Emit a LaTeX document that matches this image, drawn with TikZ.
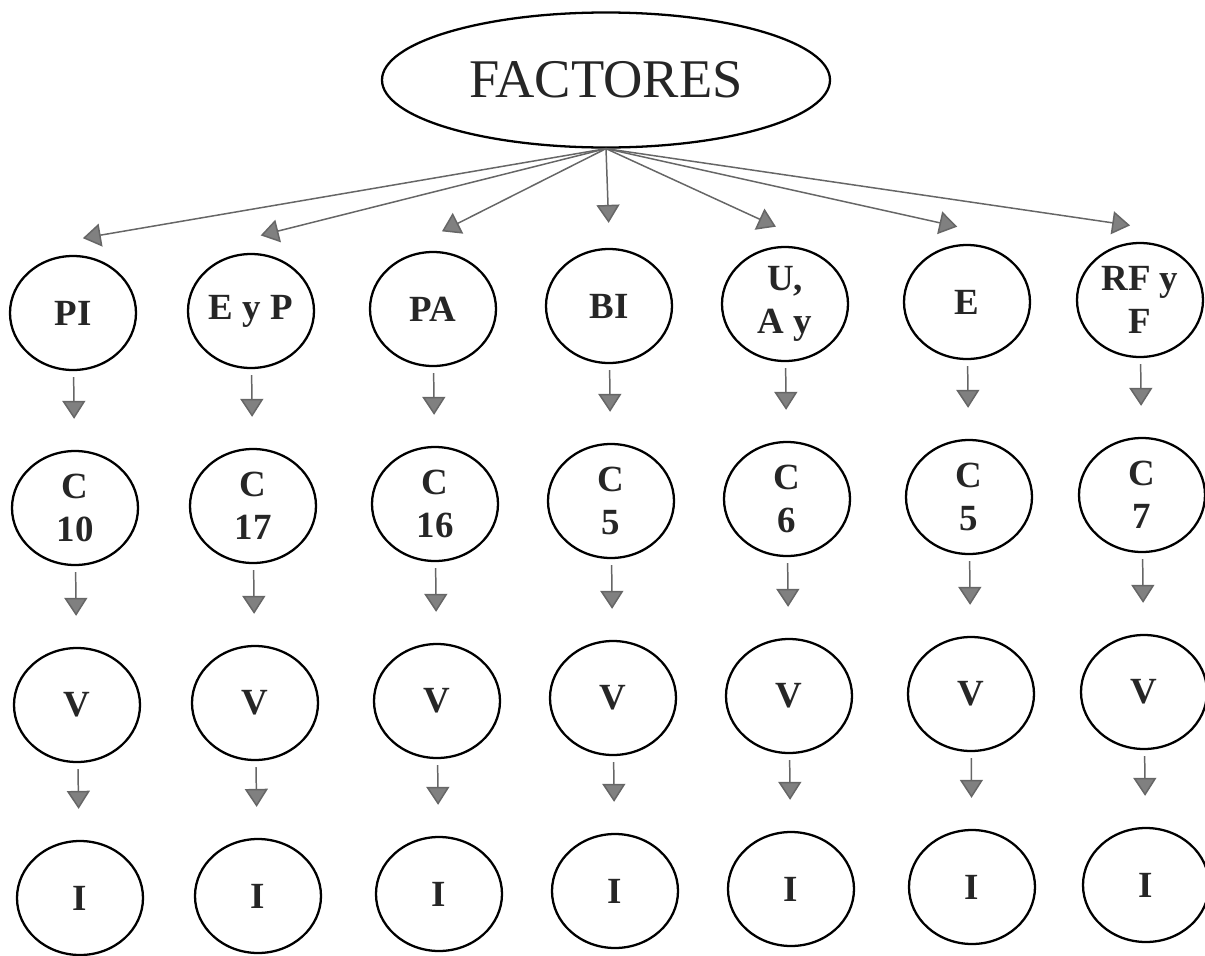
\documentclass[tikz,border=0pt]{standalone}
\usepackage{fontspec}
\setmainfont{Liberation Serif}
\usetikzlibrary{shapes.geometric,arrows.meta}
\begin{document}
\begin{tikzpicture}[x=0.2mm, y=-0.2mm, auto, line width=1.3pt,
  main node/.style={ellipse,draw,minimum width=2.52cm,minimum height=2.28cm,inner sep=0pt,align=center,text=black!85,font=\bfseries\fontsize{21}{24.5}\selectfont},
  top node/.style={ellipse,draw,minimum width=8.96cm,minimum height=2.7cm,inner sep=0pt,text=black!85,font=\fontsize{31}{36}\selectfont},
  arr/.style={draw=black!60,line width=0.85pt,-{Triangle[length=0.36cm,width=0.46cm,fill=black!50]}}]
\useasboundingbox (0,0) rectangle (1205,955);
\node[top node] (fac) at (606,80) {FACTORES};
\begin{scope}
\node[main node] (pi) at (73,313) {PI};
\node[main node] (eyp) at (251,311) {E y P};
\node[main node] (pa) at (433,309) {PA};
\node[main node] (bi) at (609,306) {BI};
\node[main node] (uay) at (785,304) {U,\\A y};
\node[main node] (e) at (967,302) {E};
\node[main node] (rfyf) at (1140,300) {RF y\\F};
\node[main node] (c1) at (75,508) {C\\10};
\node[main node] (c2) at (253,506) {C\\17};
\node[main node] (c3) at (435,504) {C\\16};
\node[main node] (c4) at (611,501) {C\\5};
\node[main node] (c5) at (787,499) {C\\6};
\node[main node] (c6) at (969,497) {C\\5};
\node[main node] (c7) at (1142,495) {C\\7};
\node[main node] (v1) at (77,705) {V};
\node[main node] (v2) at (255,703) {V};
\node[main node] (v3) at (437,701) {V};
\node[main node] (v4) at (613,698) {V};
\node[main node] (v5) at (789,696) {V};
\node[main node] (v6) at (971,694) {V};
\node[main node] (v7) at (1144,692) {V};
\node[main node] (i1) at (80,898) {I};
\node[main node] (i2) at (258,896) {I};
\node[main node] (i3) at (439,894) {I};
\node[main node] (i4) at (615,891) {I};
\node[main node] (i5) at (791,889) {I};
\node[main node] (i6) at (972,887) {I};
\node[main node] (i7) at (1146,885) {I};
\end{scope}
\begin{scope}[every edge/.style={arr,shorten >=0.2cm}]
\foreach \b in {pi,eyp,pa,bi,uay,e,rfyf}
  \draw (fac.south) edge ([yshift=0.3cm]\b.north);
\end{scope}
\begin{scope}[every edge/.style={arr,shorten <=0.12cm,shorten >=0.62cm}]
\foreach \a/\b in {pi/c1,eyp/c2,pa/c3,bi/c4,uay/c5,e/c6,rfyf/c7,c1/v1,c2/v2,c3/v3,c4/v4,c5/v5,c6/v6,c7/v7,v1/i1,v2/i2,v3/i3,v4/i4,v5/i5,v6/i6,v7/i7}
  \draw (\a) edge (\b);
\end{scope}
\end{tikzpicture}
\end{document}
